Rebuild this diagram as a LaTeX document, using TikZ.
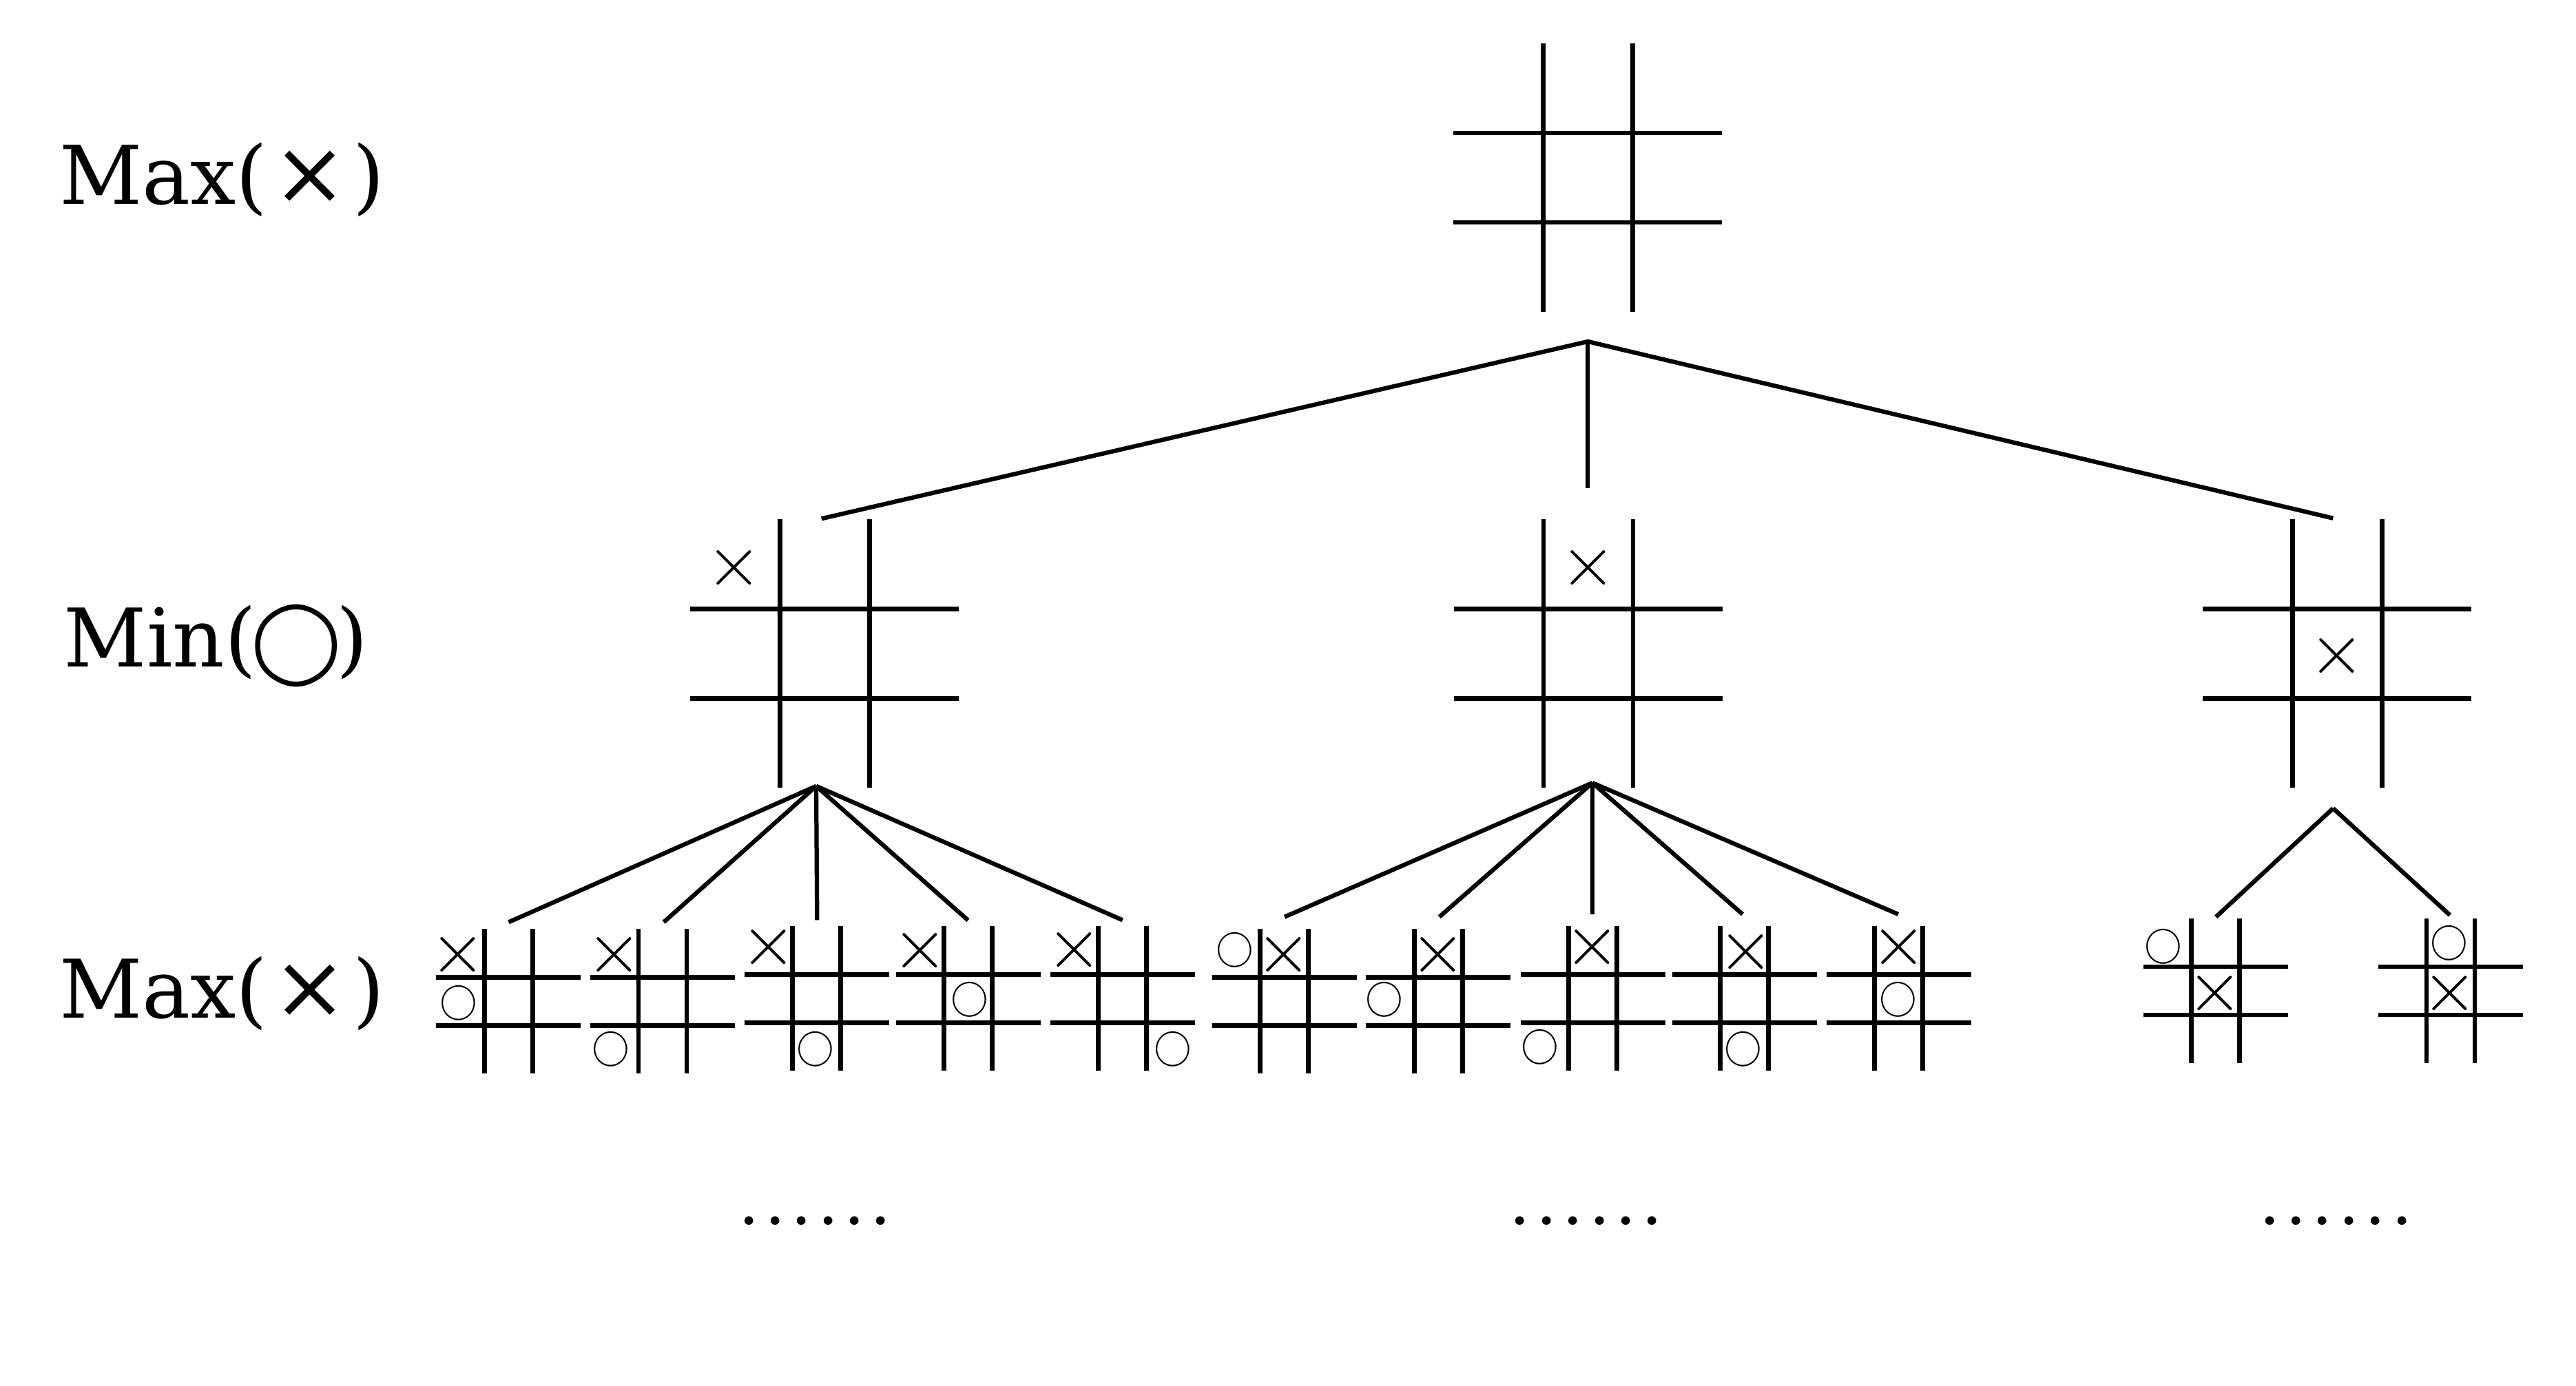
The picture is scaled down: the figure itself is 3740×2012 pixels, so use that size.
\documentclass[tikz,border=0pt]{standalone}
\usepackage{fontspec}
\newfontfamily\dvserif{DejaVu Serif}
\newfontfamily\dvsans{DejaVu Sans}
\begin{document}
\begin{tikzpicture}[x=0.2pt,y=-0.2pt,line cap=butt]
\tikzset{
  gridline/.style={line width=1.35pt},
  conn/.style={line width=1.25pt},
  xm/.style={inner sep=0pt,font=\fontsize{20.5}{20.5}\selectfont},
  om/.style={inner sep=0pt,font=\fontsize{11.3}{11.3}\selectfont},
  lbl/.style={inner sep=0pt,anchor=base west,font=\dvserif\fontsize{23.5}{28}\selectfont},
  dotrow/.style={inner sep=0pt,anchor=base,font=\fontsize{30.7}{32}\selectfont},
  pics/board/.style={code={
    \draw[gridline] (-0.5*#1,-1.5*#1) -- (-0.5*#1,1.5*#1);
    \draw[gridline] (0.5*#1,-1.5*#1) -- (0.5*#1,1.5*#1);
    \draw[gridline] (-1.5*#1,-0.5*#1) -- (1.5*#1,-0.5*#1);
    \draw[gridline] (-1.5*#1,0.5*#1) -- (1.5*#1,0.5*#1);
  }}
}
\useasboundingbox (0,0) rectangle (3740,2012);

% level labels
\node[lbl] (lab1) at (85,296) {Max(\kern1.5pt{\fontsize{26}{28}\selectfont ×}\kern1.5pt)};
\node[lbl] (lab2) at (92,968) {Min(\kern-1.5pt{\dvsans ◯}\kern-1.5pt)};
\node[lbl] (lab3) at (85,1478) {Max(\kern1.5pt{\fontsize{26}{28}\selectfont ×}\kern1.5pt)};

% root
\coordinate (R) at (2305.4,258);
\pic at (R) {board=130};
\coordinate (Rapex) at (2305.3,496);

% level 2 boards
\coordinate (B1) at (1197.3,949.3);
\coordinate (B2) at (2306,949.3);
\coordinate (B3) at (3393.3,949.3);
\pic at (B1) {board=130};
\pic at (B2) {board=130};
\pic at (B3) {board=130};
\node[xm] (B1x) at (1066.3,824.2) {$\times$};
\node[xm] (B2x) at (2306,824.2) {$\times$};
\node[xm] (B3x) at (3392.5,952.5) {$\times$};

\coordinate (B1in) at (1192.7,753.3);
\coordinate (B2in) at (2305.3,709);
\coordinate (B3in) at (3387.3,752.7);
\draw[conn] (B1in) -- (Rapex) -- (B3in);
\draw[conn] (Rapex) -- (B2in);

\coordinate (B1apex) at (1185,1141.7);
\coordinate (B2apex) at (2312,1137);
\coordinate (B3apex) at (3387.3,1174);

% leaves
\coordinate (L1) at (738.3,1454.3);
\coordinate (L2) at (962,1454.3);
\coordinate (L3) at (1185.7,1450.3);
\coordinate (L4) at (1405.6,1450.3);
\coordinate (L5) at (1629.8,1450.3);
\coordinate (L6) at (1864.8,1454.3);
\coordinate (L7) at (2088.3,1454.3);
\coordinate (L8) at (2312.6,1450.3);
\coordinate (L9) at (2532.6,1450.3);
\coordinate (L10) at (2756.5,1450.3);
\coordinate (L11) at (3216.8,1439.1);
\coordinate (L12) at (3558,1439.1);
\foreach \l in {L1,L2,L3,L4,L5,L6,L7,L8,L9,L10,L11,L12}{
  \pic at (\l) {board=70};
}

% leaf marks
\node[xm] (L1x) at (665,1386.4) {$\times$};
\node[om] (L1o) at (665.6,1456.5) {$\bigcirc$};
\node[xm] (L2x) at (892,1386.4) {$\times$};
\node[om] (L2o) at (887,1523.6) {$\bigcirc$};
\node[xm] (L3x) at (1115.9,1375.3) {$\times$};
\node[om] (L3o) at (1184,1523.6) {$\bigcirc$};
\node[xm] (L4x) at (1335.9,1380.2) {$\times$};
\node[om] (L4o) at (1407.6,1451.8) {$\bigcirc$};
\node[xm] (L5x) at (1559.4,1380) {$\times$};
\node[om] (L5o) at (1702.9,1523.6) {$\bigcirc$};
\node[om] (L6o) at (1793.3,1380.2) {$\bigcirc$};
\node[xm] (L6x) at (1863.9,1386.4) {$\times$};
\node[xm] (L7x) at (2088,1386.4) {$\times$};
\node[om] (L7o) at (2009.9,1451.8) {$\bigcirc$};
\node[xm] (L8x) at (2312,1375.3) {$\times$};
\node[om] (L8o) at (2235.9,1520.5) {$\bigcirc$};
\node[xm] (L9x) at (2534.9,1383) {$\times$};
\node[om] (L9o) at (2531.3,1523.6) {$\bigcirc$};
\node[xm] (L10x) at (2756.4,1375.6) {$\times$};
\node[om] (L10o) at (2755.9,1451.8) {$\bigcirc$};
\node[om] (L11o) at (3141.3,1374.9) {$\bigcirc$};
\node[xm] (L11x) at (3215.5,1443) {$\times$};
\node[om] (L12o) at (3556.3,1369.6) {$\bigcirc$};
\node[xm] (L12x) at (3556.6,1443) {$\times$};

% leaf connector ends
\coordinate (L1in) at (738.5,1339.3);
\coordinate (L2in) at (963.6,1339.3);
\coordinate (L3in) at (1186.3,1336.3);
\coordinate (L4in) at (1405.5,1336.6);
\coordinate (L5in) at (1629.8,1336.3);
\coordinate (L6in) at (1865,1331.7);
\coordinate (L7in) at (2089.7,1331.7);
\coordinate (L8in) at (2312,1327.8);
\coordinate (L9in) at (2530,1327.8);
\coordinate (L10in) at (2755.9,1327.8);
\coordinate (L11in) at (3217.2,1331.7);
\coordinate (L12in) at (3556.9,1329.1);

\foreach \l in {L1in,L2in,L3in,L4in,L5in}{\draw[conn] (B1apex) -- (\l);}
\foreach \l in {L6in,L7in,L8in,L9in,L10in}{\draw[conn] (B2apex) -- (\l);}
\foreach \l in {L11in,L12in}{\draw[conn] (B3apex) -- (\l);}

% continuation dots
\node[dotrow] (d1) at (1183.2,1779.5) {......};
\node[dotrow] (d2) at (2303,1779.5) {......};
\node[dotrow] (d3) at (3391.2,1779) {......};
\end{tikzpicture}
\end{document}
